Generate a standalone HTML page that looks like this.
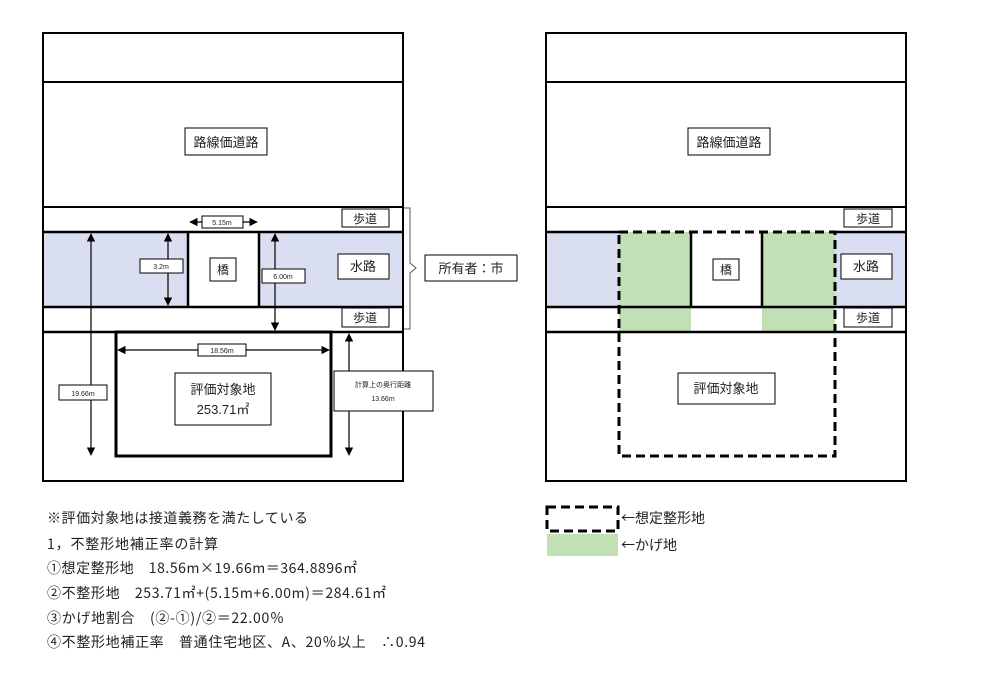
<!DOCTYPE html>
<html><head><meta charset="utf-8"><style>
html,body{margin:0;padding:0;background:#fff;}
svg{display:block;font-family:"Liberation Sans","Noto Sans CJK JP",sans-serif;}
.cjk{font-family:"Noto Sans CJK JP",sans-serif;}
</style></head><body>
<svg width="987" height="690" viewBox="0 0 987 690" xmlns="http://www.w3.org/2000/svg">
<defs>
<marker id="a" viewBox="0 0 10 10" refX="9" refY="5" markerWidth="7" markerHeight="7" orient="auto-start-reverse"><path d="M0,0 L10,5 L0,10z" fill="#000"/></marker>
</defs>
<g fill="none" stroke="#000">
<rect x="43" y="232" width="360" height="75" fill="#d9dff0" stroke="none"/>
<rect x="188" y="232" width="71" height="75" fill="#fff" stroke="none"/>
<rect x="43" y="33" width="360" height="448" stroke-width="2"/>
<line x1="43" y1="82" x2="403" y2="82" stroke-width="2"/>
<line x1="43" y1="207" x2="403" y2="207" stroke-width="2"/>
<line x1="43" y1="232" x2="403" y2="232" stroke-width="2.5"/>
<line x1="43" y1="307" x2="403" y2="307" stroke-width="2.5"/>
<line x1="43" y1="332" x2="403" y2="332" stroke-width="2.5"/>
<line x1="188" y1="232" x2="188" y2="307" stroke-width="2.5"/>
<line x1="259" y1="232" x2="259" y2="307" stroke-width="2.5"/>
<rect x="116" y="332" width="215" height="124" stroke-width="3"/>
<path d="M404,208 h6 v55 l6,5 l-6,5 v56 h-6" stroke-width="1" stroke="#555"/>
<g stroke-width="1.2">
<line x1="190" y1="222" x2="257" y2="222" marker-start="url(#a)" marker-end="url(#a)"/>
<line x1="168" y1="234" x2="168" y2="305" marker-start="url(#a)" marker-end="url(#a)"/>
<line x1="275" y1="234" x2="275" y2="330" marker-start="url(#a)" marker-end="url(#a)"/>
<line x1="91" y1="234" x2="91" y2="455" marker-start="url(#a)" marker-end="url(#a)"/>
<line x1="118" y1="350" x2="329" y2="350" marker-start="url(#a)" marker-end="url(#a)"/>
<line x1="349" y1="334" x2="349" y2="455" marker-start="url(#a)" marker-end="url(#a)"/>
</g>
<g fill="#fff" stroke-width="1">
<rect x="185" y="128" width="82" height="27"/>
<rect x="342" y="209" width="47" height="18"/>
<rect x="342" y="308" width="47" height="19"/>
<rect x="338" y="254" width="51" height="25"/>
<rect x="210" y="258" width="26" height="23"/>
<rect x="425" y="255" width="92" height="26"/>
<rect x="202" y="216" width="41" height="12"/>
<rect x="140" y="259" width="43" height="14"/>
<rect x="262" y="269" width="43" height="14"/>
<rect x="59" y="385" width="48" height="15"/>
<rect x="198" y="344" width="48" height="12"/>
<rect x="334" y="371" width="99" height="40"/>
<rect x="175" y="373" width="96" height="52"/>
</g>
<rect x="546" y="232" width="360" height="75" fill="#d9dff0" stroke="none"/>
<rect x="619" y="232" width="72" height="100" fill="#c2e0b6" stroke="none"/>
<rect x="762" y="232" width="73" height="100" fill="#c2e0b6" stroke="none"/>
<rect x="691" y="232" width="71" height="75" fill="#fff" stroke="none"/>
<rect x="546" y="33" width="360" height="448" stroke-width="2"/>
<line x1="546" y1="82" x2="906" y2="82" stroke-width="2"/>
<line x1="546" y1="207" x2="906" y2="207" stroke-width="2"/>
<line x1="546" y1="232" x2="619" y2="232" stroke-width="2.5"/>
<line x1="835" y1="232" x2="906" y2="232" stroke-width="2.5"/>
<line x1="546" y1="307" x2="906" y2="307" stroke-width="2.5"/>
<line x1="546" y1="332" x2="906" y2="332" stroke-width="2.5"/>
<line x1="691" y1="232" x2="691" y2="307" stroke-width="2.5"/>
<line x1="762" y1="232" x2="762" y2="307" stroke-width="2.5"/>
<rect x="619" y="232" width="216" height="224" stroke-width="3" stroke-dasharray="9,5"/>
<g fill="#fff" stroke-width="1">
<rect x="688" y="128" width="82" height="27"/>
<rect x="844" y="209" width="48" height="18"/>
<rect x="844" y="308" width="48" height="19"/>
<rect x="841" y="254" width="51" height="25"/>
<rect x="713" y="259" width="26" height="21"/>
<rect x="678" y="373" width="97" height="31"/>
</g>
<rect x="547" y="507" width="71" height="24" stroke-width="3" stroke-dasharray="9,5"/>
<rect x="547" y="534" width="71" height="22" fill="#c2e0b6" stroke="none"/>
</g>
<g fill="#222" font-size="13" text-anchor="middle">
<text x="226" y="147">路線価道路</text>
<text x="365" y="223" font-size="12">歩道</text>
<text x="365" y="322" font-size="12">歩道</text>
<text x="363" y="271">水路</text>
<text x="223" y="274" font-size="12">橋</text>
<text x="471" y="273">所有者：市</text>
<text x="222" y="225" font-size="7">5.15m</text>
<text x="161" y="269" font-size="7">3.2m</text>
<text x="283" y="279" font-size="7">6.00m</text>
<text x="83" y="396" font-size="7">19.66m</text>
<text x="222" y="353" font-size="7">18.56m</text>
<text x="383" y="387" font-size="7">計算上の奥行距離</text>
<text x="383" y="401" font-size="7">13.66m</text>
<text x="223" y="394">評価対象地</text>
<text x="223" y="414">253.71㎡</text>
<text x="729" y="147">路線価道路</text>
<text x="868" y="223" font-size="12">歩道</text>
<text x="868" y="322" font-size="12">歩道</text>
<text x="866" y="271">水路</text>
<text x="726" y="274" font-size="12">橋</text>
<text x="726" y="393">評価対象地</text>
</g>
<g fill="#222" font-size="14" class="cjk">
<text x="47" y="523" textLength="261" lengthAdjust="spacing">※評価対象地は接道義務を満たしている</text>
<text x="47" y="549" textLength="171" lengthAdjust="spacing">1，不整形地補正率の計算</text>
<text x="47" y="573" textLength="310" lengthAdjust="spacing">①想定整形地　18.56m×19.66m＝364.8896㎡</text>
<text x="47" y="598" textLength="339" lengthAdjust="spacing">②不整形地　253.71㎡+(5.15m+6.00m)＝284.61㎡</text>
<text x="47" y="623" textLength="237" lengthAdjust="spacing">③かげ地割合　(②-①)/②＝22.00％</text>
<text x="47" y="647" textLength="378" lengthAdjust="spacing">④不整形地補正率　普通住宅地区、A、20％以上　∴0.94</text>
<text x="621" y="523">←想定整形地</text>
<text x="621" y="550">←かげ地</text>
</g>
</svg>
</body></html>
